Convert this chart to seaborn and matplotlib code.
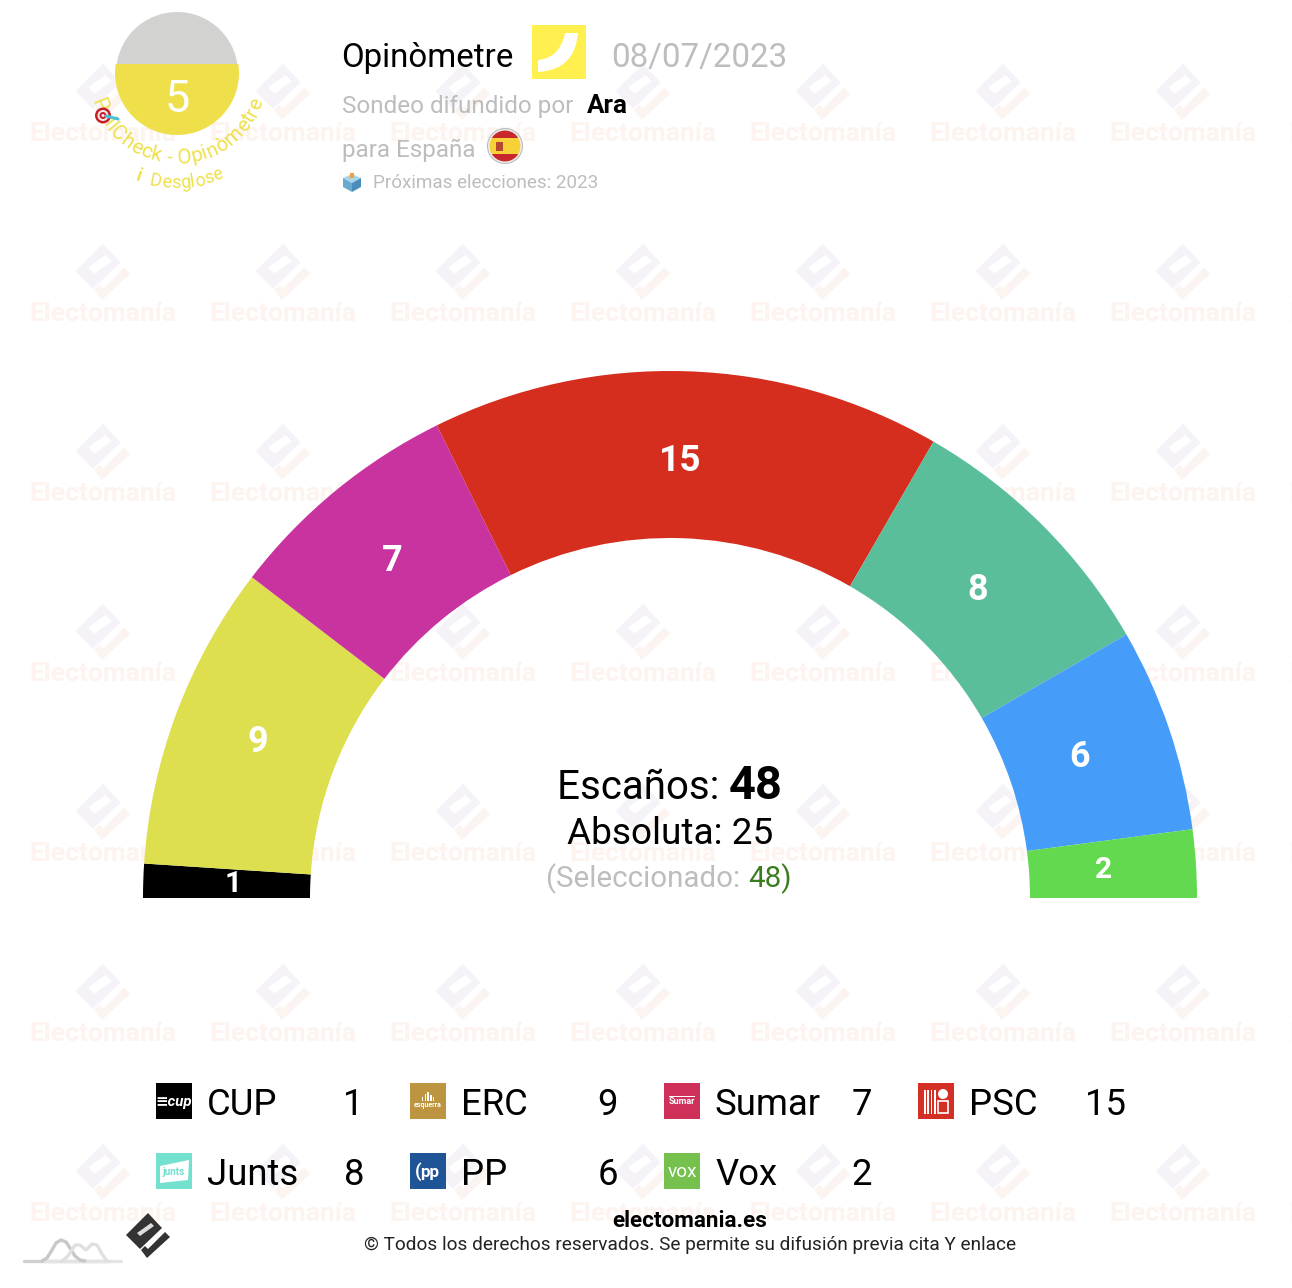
import matplotlib
matplotlib.use("Agg")
import matplotlib.pyplot as plt
import seaborn as sns
import numpy as np
from matplotlib.patches import Circle, Rectangle, PathPatch, Polygon
from matplotlib.path import Path

parties = ["CUP", "ERC", "Sumar", "PSC", "Junts", "PP", "Vox"]
seats = [1, 9, 7, 15, 8, 6, 2]
seat_colors = ["#000000", "#DDDF4E", "#C933A0", "#D52D1E", "#5ABE9A", "#459CF9", "#62D94E"]
logo_colors = ["#000000", "#BD9540", "#CF3059", "#D32F25", "#74E0CE", "#1F5596", "#76C04E"]
logo_texts = ["≡cup", "esquerra", "Sumar", "", "junts", "pp", "vox"]
label_px = [30, 36, 36, 37, 36, 36, 30]
label_radius = [437, 442, 440, 441, 438, 434, 435]
label_nudge_deg = [-0.3, -0.6, -0.2, 0.6, 0.4, 0.75, 0.35]
total_seats = 48
majority = 25
selected = 48
poll_score = 5

W, H = 1292, 1288
sns.set_theme(style="white")
plt.rcParams["font.family"] = ["Roboto", "DejaVu Sans"]
palette = sns.color_palette(seat_colors)

fig = plt.figure(figsize=(W / 100, H / 100), dpi=100, facecolor="white")
ax = fig.add_axes([0, 0, 1, 1])
ax.set_axis_off()


def Y(p):
    return H - p


def fs(px):
    return px * 0.72


def txt(x, y, s, px, color="black", weight="normal", ha="left", va="baseline", z=8, **kw):
    return ax.text(x, Y(y), s, fontsize=fs(px), color=color, fontweight=weight,
                   ha=ha, va=va, zorder=z, **kw)


def text_w(s, px, weight="normal"):
    t = ax.text(0, 0, s + "|", fontsize=fs(px), fontweight=weight)
    b = ax.text(0, 0, "|", fontsize=fs(px), fontweight=weight)
    r = fig.canvas.get_renderer()
    w = t.get_window_extent(r).width - b.get_window_extent(r).width
    t.remove()
    b.remove()
    return w


def row(x, y, parts, center=False):
    widths = [text_w(s, px, wt) for s, px, c, wt in parts]
    if center:
        x -= sum(widths) / 2
    for (s, px, c, wt), w in zip(parts, widths):
        txt(x, y, s, px, c, wt)
        x += w


def icon(cx, cy, k, c1, c2, hole, hole_pts, z):
    def P(pts):
        return [(cx + k * a, Y(cy + k * b)) for a, b in pts]
    ax.add_patch(Polygon(P([(0, -13), (-22, 9), (-8, 23), (14, 2)]), fc=c1, ec="none", zorder=z))
    ax.add_patch(Polygon(P(hole_pts), fc=hole, ec="none", zorder=z))
    ax.add_patch(Polygon(P([(17, 6), (22, 11), (-1, 32), (-7, 24), (-3, 20), (0, 23)]), fc=c2, ec="none", zorder=z))


# watermark
for j in range(7):
    for i in range(8):
        x = 103 + 180 * i
        y = 92 + 180 * j
        icon(x, y - 12, 1.25, "#F5F2F8", "#FBF4F1", "white", [(-12, 6), (-7, 11), (7, 1), (2, -4)], 0)
        txt(x, y + 49, "Electomanía", 26.4, "#FDF3EF", "bold", ha="center", z=0)

# hemicycle
values = seats + [total_seats]
wedges, _ = ax.pie(values, colors=list(palette) + [(0, 0, 0, 0)], startangle=180, counterclock=False,
                   center=(670, Y(898)), radius=527, frame=True,
                   wedgeprops=dict(width=167, linewidth=0))
ax.set_axis_off()
for w in wedges:
    w.set_zorder(5)
for w, n, px, r, da in zip(wedges, seats, label_px, label_radius, label_nudge_deg):
    a = np.radians((w.theta1 + w.theta2) / 2 + da)
    ax.text(670 + r * np.cos(a), Y(898) + r * np.sin(a), str(n), color="white", fontsize=fs(px),
            fontweight="bold", ha="center", va="center_baseline", zorder=7)

# centre text
row(670, 799, [("Escaños: ", 40.2, "black", "normal"), (str(total_seats), 47, "black", "bold")], center=True)
row(670, 844.5, [(f"Absoluta: {majority}", 37, "black", "normal")], center=True)
row(669, 887, [("(Seleccionado: ", 29.5, "#BDBDBD", "normal"), (f"{selected})", 29.5, "#3A7D1E", "normal")],
    center=True)

# score circle
back = Circle((177, Y(73)), 61, fc="#D2D2D0", ec="none", zorder=3)
ax.add_patch(back)
front = Circle((177, Y(73)), 62, fc="#EFE04B", ec="none", zorder=4)
ax.add_patch(front)
front.set_clip_path(Rectangle((100, Y(140)), 160, 76, transform=ax.transData))
txt(177, 111.5, str(poll_score), 45, "white", ha="center")


def arc_text(s, radius, px, color, weight="normal", shift=0):
    total = text_w(s, px, weight)
    for n, ch in enumerate(s):
        start = text_w(s[:n], px, weight) if n else 0
        w = text_w(ch, px, weight)
        mid = start + w / 2 - total / 2 + shift
        a = mid / radius
        x = 177 + radius * np.sin(a)
        y = 73 + radius * np.cos(a)
        ax.text(x, Y(y), ch, fontsize=fs(px), color=color,
                fontweight="bold" if ch == "i" and n == 0 else weight, ha="center", va="center",
                rotation=np.degrees(a), rotation_mode="anchor", zorder=8)


arc_text("PollCheck - Opinòmetre", 85, 20.5, "#EFE04B")
arc_text("i  Desglose", 110, 18, "#EFE04B", shift=3)
# dart target
for r, c in zip([8, 5.5, 3.5, 1.5], ["#C8202A", "#F4E8E8", "#C8202A", "#F4E8E8"]):
    ax.add_patch(Circle((103, Y(115.5)), r, fc=c, ec="none", zorder=9))
ax.plot([106, 118], [Y(116), Y(119)], color="#45C4D8", lw=2.2, solid_capstyle="round", zorder=9)

# header
row(341.5, 67, [("Opinòmetre", 33, "black", "normal")])
ax.add_patch(Rectangle((532, Y(79)), 54, 54, fc="#FFF050", ec="none", zorder=3))
arc = Path([(578, Y(33)), (575, Y(70)), (538, Y(72)), (538, Y(60)), (560, Y(58)), (565, Y(33)), (578, Y(33))],
           [Path.MOVETO, Path.CURVE3, Path.CURVE3, Path.LINETO, Path.CURVE3, Path.CURVE3, Path.CLOSEPOLY])
ax.add_patch(PathPatch(arc, fc="white", ec="none", zorder=4))
row(611.5, 67, [("08/07/2023", 33.2, "#BDBDBD", "normal")])
row(341.5, 113, [("Sondeo difundido por", 24.2, "#BDBDBD", "normal")])
row(586.5, 113, [("Ara", 26, "black", "bold")])
row(341.5, 157, [("para España", 24.2, "#BDBDBD", "normal")])

# flag
ring = Circle((505, Y(146)), 17.5, fc="#F0F0F0", ec="#BBBBBB", lw=0.8, zorder=3)
ax.add_patch(ring)
clip = Circle((505, Y(146)), 15.5, transform=ax.transData)
for y0, h, c in [(130, 8, "#C8282C"), (138, 16, "#F8D038"), (154, 8, "#C8282C")]:
    rect = Rectangle((488, Y(y0 + h)), 34, h, fc=c, ec="none", zorder=4)
    ax.add_patch(rect)
    rect.set_clip_path(clip)
ax.add_patch(Rectangle((496, Y(151)), 7, 9, fc="#B5482E", ec="none", zorder=5))

# ballot box
ax.add_patch(Polygon([(343, Y(178)), (352, Y(174)), (361, Y(178)), (352, Y(183))], fc="#A5D5E8", ec="none", zorder=4))
ax.add_patch(Polygon([(343, Y(178)), (352, Y(183)), (352, Y(192)), (343, Y(187))], fc="#6BAAD0", ec="none", zorder=4))
ax.add_patch(Polygon([(361, Y(178)), (352, Y(183)), (352, Y(192)), (361, Y(187))], fc="#4A8DBB", ec="none", zorder=4))
ax.add_patch(Rectangle((350, Y(178)), 4, 5, fc="#F0A040", ec="none", zorder=5))
row(373, 188, [("Próximas elecciones: 2023", 18.9, "#BDBDBD", "normal")])

# legend
cols = [156, 410, 664, 918]
sizes = {"CUP": (15, "bold"), "ERC": (7, "bold"), "Sumar": (9, "bold"), "Junts": (10, "bold"),
         "PP": (17, "bold"), "Vox": (19, "normal")}
for n, (p, v, c, lt) in enumerate(zip(parties, seats, logo_colors, logo_texts)):
    x = cols[n % 4]
    y = 1083 + 70 * (n // 4)
    ax.add_patch(Rectangle((x, Y(y + 36)), 36, 36, fc=c, ec="none", zorder=6))
    if p == "Junts":
        ax.add_patch(Polygon([(x + 4, Y(y + 13)), (x + 33, Y(y + 7)), (x + 32, Y(y + 27)), (x + 4, Y(y + 30))],
                             fc="white", ec="none", zorder=7))
    if p == "PSC":
        for k in range(4):
            ax.add_patch(Rectangle((x + 6 + 3.4 * k, Y(y + 31)), 1.5, 24, fc="white", ec="none", zorder=7))
        ax.add_patch(Circle((x + 25, Y(y + 11)), 5, fc="white", ec="none", zorder=7))
        ax.add_patch(Rectangle((x + 20, Y(y + 30)), 10, 12, fc="none", ec="white", lw=1.2, zorder=7))
    if p == "ERC":
        for k, h in enumerate([4, 7, 9, 6, 4]):
            ax.add_patch(Rectangle((x + 12 + 2.7 * k, Y(y + 18)), 1.4, h, fc="white", ec="none", zorder=7))
    if p == "Sumar":
        ax.add_patch(Rectangle((x + 5, Y(y + 14)), 26, 1.0, fc="white", ec="none", zorder=7))
    if p == "PP":
        ax.text(x + 8, Y(y + 19), "(", color="white", fontsize=fs(19), fontweight="bold", ha="center", va="center", zorder=8)
    if lt:
        sz, wt = sizes[p]
        dy = {"ERC": 22, "Sumar": 19}.get(p, 19)
        dx = {"PP": 20, "Vox": 18}.get(p, 18)
        ax.text(x + dx, Y(y + dy), lt, color="#74E0CE" if p == "Junts" else "white", fontsize=fs(sz), fontweight=wt,
                ha="center", va="center", zorder=8, style="italic" if p == "CUP" else "normal")
    txt(x + 51, y + 32, p, 36.5)
    txt(x + 208, y + 32, str(v), 36.5, ha="right")

# footer
txt(690, 1227, "electomania.es", 22.5, "black", "bold", ha="center")
txt(690, 1250, "© Todos los derechos reservados. Se permite su difusión previa cita Y enlace", 19, "#222222", ha="center")
icon(148, 1226, 1.0, "#333333", "#333333", "#DDDDDD", [(-11, 7), (-8, 10), (6, 0), (3, -3)], 7)
ax.plot([24, 108], [Y(1261)] * 2, color="#D0D0D0", lw=2.4, zorder=6)
ax.plot([44, 121], [Y(1261)] * 2, color="#E4E4E4", lw=2.4, zorder=6)
ax.plot([42, 47, 52, 56, 61, 66, 70, 75, 80, 85], [Y(v) for v in [1261, 1258, 1250, 1243, 1240, 1242, 1248, 1256, 1260, 1261]],
        color="#C8C8C8", lw=2.4, zorder=6)
ax.plot([62, 68, 75, 80, 86, 92, 97, 102, 107], [Y(v) for v in [1261, 1256, 1245, 1245, 1250, 1244, 1245, 1254, 1261]],
        color="#E0E0E0", lw=2.4, zorder=6)

ax.set_xlim(0, W)
ax.set_ylim(0, H)
fig.savefig("out.png", dpi=100, facecolor="white")
